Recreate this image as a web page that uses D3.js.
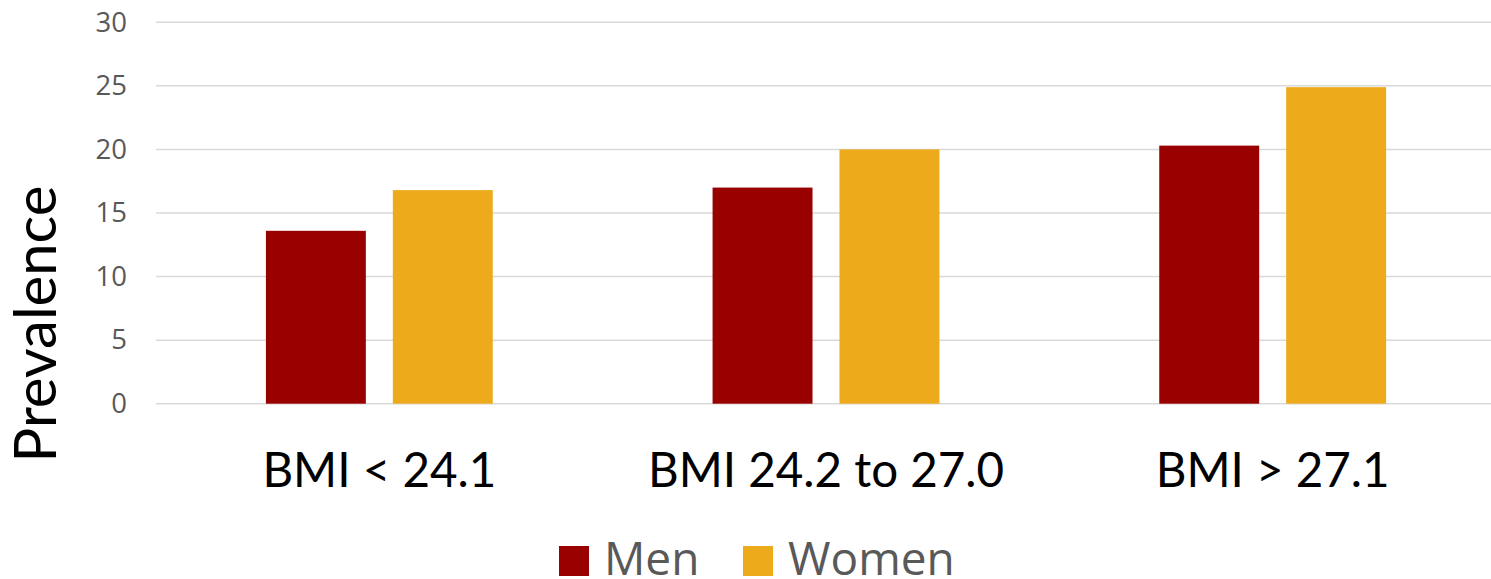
<!DOCTYPE html>
<html>
<head>
<meta charset="utf-8">
<script src="https://cdn.jsdelivr.net/npm/d3@7/dist/d3.min.js"></script>
<style>
  html, body { margin: 0; padding: 0; background: #fff; }
  svg { display: block; }
</style>
</head>
<body>
<svg id="chart" width="1491" height="579"></svg>
<script>
// Prevalence by BMI group, men vs women
const categories = ["BMI < 24.1", "BMI 24.2 to 27.0", "BMI > 27.1"];
const seriesNames = ["Men", "Women"];
const menValues = [13.6, 17.0, 20.3];
const womenValues = [16.8, 20.0, 24.9];
const yTicks = [0, 5, 10, 15, 20, 25, 30];
const colors = ["#990000", "#EDAA1A"];

const seriesValues = [menValues, womenValues];
const rows = categories.map((c, i) => ({
  category: c,
  values: seriesNames.map((s, j) => ({ series: s, value: seriesValues[j][i], idx: j }))
}));

const svg = d3.select("#chart");

const x0 = d3.scaleBand().domain(categories).range([156, 1496]).paddingInner(0).paddingOuter(0);
const x1 = d3.scaleBand().domain(seriesNames).range([0, x0.bandwidth()])
  .paddingInner(0.2126).paddingOuter(0.866);
const y = d3.scaleLinear().domain([0, 30]).range([403.7, 22.3]);

// Horizontal gridlines
svg.append("g")
  .selectAll("line")
  .data(yTicks)
  .join("line")
  .attr("x1", 156)
  .attr("x2", 1496)
  .attr("y1", d => y(d))
  .attr("y2", d => y(d))
  .attr("stroke", "#d9d9d9")
  .attr("stroke-width", 1.5);

// Y axis tick labels
const yAxis = d3.axisLeft(y).tickValues(yTicks).tickSize(0).tickPadding(0);
const yg = svg.append("g").attr("transform", "translate(127,0)").call(yAxis);
yg.select(".domain").remove();
yg.selectAll("text")
  .attr("font-family", "'Open Sans', sans-serif")
  .attr("font-size", 27.5)
  .attr("fill", "#595959");

// Bars
const groups = svg.append("g")
  .selectAll("g")
  .data(rows)
  .join("g")
  .attr("transform", d => `translate(${x0(d.category)},0)`);

groups.selectAll("rect")
  .data(d => d.values)
  .join("rect")
  .attr("x", d => x1(d.series))
  .attr("width", x1.bandwidth())
  .attr("y", d => y(d.value))
  .attr("height", d => y(0) - y(d.value))
  .attr("fill", d => colors[d.idx]);

// Category labels
const xAxis = d3.axisBottom(x0).tickSize(0).tickPadding(0);
const xg = svg.append("g").attr("transform", "translate(0,487)").call(xAxis);
xg.select(".domain").remove();
xg.selectAll("text")
  .attr("dy", 0)
  .attr("font-family", "Lato, 'Open Sans', sans-serif")
  .attr("font-size", 47.5)
  .attr("fill", "#000");

// Y axis title
svg.append("text")
  .attr("transform", "translate(56,324) rotate(-90)")
  .attr("text-anchor", "middle")
  .attr("font-family", "Lato, 'Open Sans', sans-serif")
  .attr("font-size", 58)
  .attr("fill", "#000")
  .text("Prevalence");

// Legend
const legendItems = [
  { name: seriesNames[0], x: 559, color: colors[0] },
  { name: seriesNames[1], x: 743, color: colors[1] }
];
const legend = svg.append("g");
legend.selectAll("rect")
  .data(legendItems)
  .join("rect")
  .attr("x", d => d.x)
  .attr("y", 546)
  .attr("width", 30)
  .attr("height", 30)
  .attr("fill", d => d.color);
legend.selectAll("text")
  .data(legendItems)
  .join("text")
  .attr("x", d => d.x + 45)
  .attr("y", 575)
  .attr("font-family", "'Open Sans', sans-serif")
  .attr("font-size", 46)
  .attr("fill", "#595959")
  .text(d => d.name);
</script>
</body>
</html>
